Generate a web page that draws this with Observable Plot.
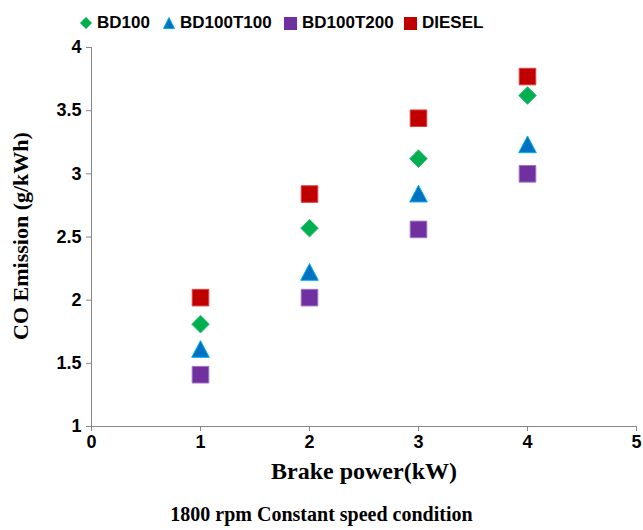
<!DOCTYPE html>
<html><head><meta charset="utf-8">
<script src="https://cdn.jsdelivr.net/npm/d3@7"></script>
<script src="https://cdn.jsdelivr.net/npm/@observablehq/plot@0.6"></script>
<style>
body{margin:0;background:#fff;width:643px;height:530px;overflow:hidden}
#legend{height:30px;position:relative;font:bold 17px "Liberation Sans",Arial,sans-serif;color:#000}
#legend .it{position:absolute;top:13px;display:flex;align-items:center;gap:5px}
#caption{font:bold 20px "Liberation Serif","Times New Roman",serif;text-align:center;width:643px;margin-top:13px}
</style></head>
<body>
<div id="legend"></div>
<div id="chart"></div>
<div id="caption">1800 rpm Constant speed condition</div>
<script>
const power = [1, 2, 3, 4];
const bd100 = [1.81, 2.57, 3.12, 3.62];
const bd100t100 = [1.61, 2.22, 2.84, 3.23];
const bd100t200 = [1.41, 2.02, 2.56, 3.00];
const diesel = [2.02, 2.84, 3.44, 3.77];
const seriesNames = ["BD100", "BD100T100", "BD100T200", "DIESEL"];
const xTicks = [0, 1, 2, 3, 4, 5];
const yTicks = [1, 1.5, 2, 2.5, 3, 3.5, 4];

// custom symbols: r equals half-size in pixels
const half = size => Math.sqrt(size / Math.PI);
const diamond = {draw(c, size) { const h = half(size); c.moveTo(0, -h); c.lineTo(h, 0); c.lineTo(0, h); c.lineTo(-h, 0); c.closePath(); }};
const triangle = {draw(c, size) { const h = half(size); c.moveTo(0, -h); c.lineTo(h, h * 0.9); c.lineTo(-h, h * 0.9); c.closePath(); }};
const square = {draw(c, size) { const h = half(size); c.rect(-h, -h, 2 * h, 2 * h); }};

const styles = {
  "BD100": {symbol: diamond, fill: "#00B050", stroke: "#35c070", r: 8.8},
  "BD100T100": {symbol: triangle, fill: "#0070C0", stroke: "#00B0F0", r: 8.8},
  "BD100T200": {symbol: square, fill: "#7030A0", stroke: "#9c74c0", r: 8.3},
  "DIESEL": {symbol: square, fill: "#C00000", stroke: "#dd4444", r: 8.3}
};
const values = [bd100, bd100t100, bd100t200, diesel];
const data = seriesNames.flatMap((s, i) => power.map((p, j) => ({series: s, x: p, y: values[i][j]})));

const legendX = [80, 163, 284, 404];
const leg = document.getElementById("legend");
const icons = {
  "BD100": '<svg width="12" height="12"><path d="M6 0L12 6L6 12L0 6Z" fill="#00B050"/></svg>',
  "BD100T100": '<svg width="12" height="12"><path d="M6 0.5L11.5 11.5L0.5 11.5Z" fill="#0070C0" stroke="#00B0F0"/></svg>',
  "BD100T200": '<svg width="13" height="13"><rect x="0" y="0" width="13" height="13" fill="#7030A0"/></svg>',
  "DIESEL": '<svg width="13" height="13"><rect x="0" y="0" width="13" height="13" fill="#C00000"/></svg>'
};
seriesNames.forEach((s, i) => {
  const d = document.createElement("div");
  d.className = "it";
  d.style.left = legendX[i] + "px";
  d.innerHTML = icons[s] + "<span>" + s + "</span>";
  leg.appendChild(d);
});

const marks = [
  Plot.ruleY([1], {stroke: "#868686"}),
  Plot.ruleX([0], {stroke: "#868686"}),
  Plot.axisX({ticks: xTicks, tickSize: 5, stroke: "#868686", fill: "#000", tickPadding: 4, fontSize: 18, fontWeight: "bold",
    tickFormat: d => String(d),
    label: "Brake power(kW)", labelAnchor: "center", labelOffset: 52, labelArrow: "none"}),
  Plot.axisY({ticks: yTicks, tickSize: 5, stroke: "#868686", fill: "#000", tickPadding: 5, fontSize: 18, fontWeight: "bold",
    tickFormat: d => String(d), label: null})
];
seriesNames.forEach(s => {
  const st = styles[s];
  marks.push(Plot.dot(data.filter(d => d.series === s), {x: "x", y: "y", symbol: () => st.symbol, r: st.r, fill: st.fill, stroke: st.stroke, strokeWidth: 1}));
});

const chart = Plot.plot({
  width: 643,
  height: 460,
  marginTop: 17,
  marginLeft: 91,
  marginRight: 7,
  marginBottom: 64,
  x: {domain: [0, 5]},
  y: {domain: [1, 4]},
  symbol: {type: "identity"},
  style: {fontFamily: "'Liberation Sans', Arial, sans-serif", color: "#000", background: "#fff"},
  marks
});
document.getElementById("chart").appendChild(chart);

const svg = d3.select(chart);
svg.selectAll("[aria-label='x-axis label'] text").attr("font-family", "'Liberation Serif','Times New Roman',serif").attr("font-size", 24).attr("font-weight", "bold");
svg.append("text")
  .attr("transform", "translate(28,206) rotate(-90)")
  .attr("text-anchor", "middle")
  .attr("font-family", "'Liberation Serif','Times New Roman',serif")
  .attr("font-size", 22).attr("font-weight", "bold")
  .text("CO Emission (g/kWh)");
</script>
</body></html>
